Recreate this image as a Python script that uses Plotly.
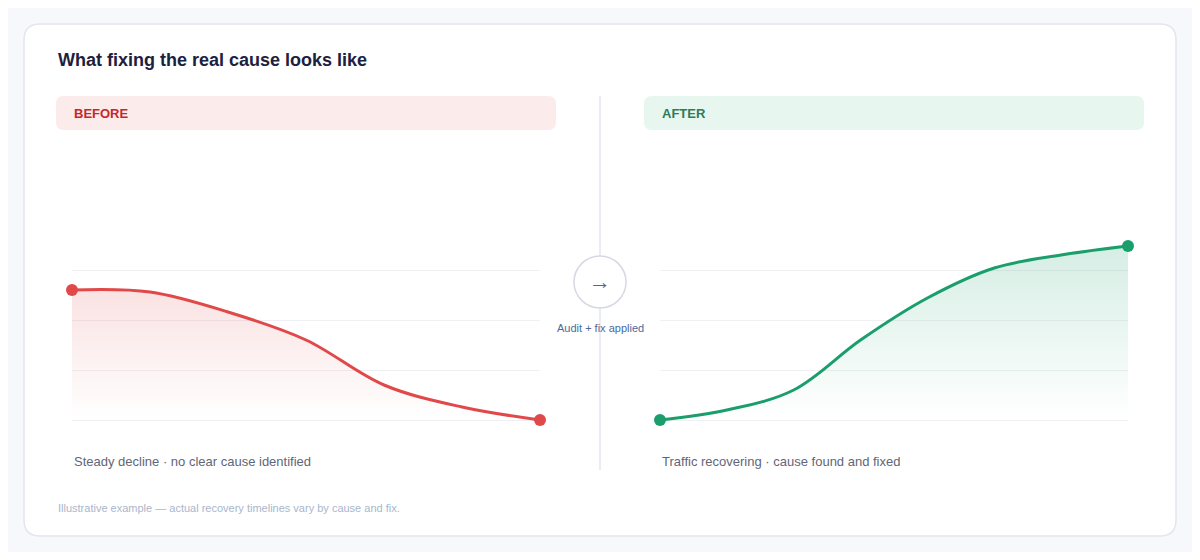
import plotly.graph_objects as go

# page puts the plot 8px in from top-left, so draw on a slightly smaller figure
OFF = 8
W, H = 1200 - 2 * OFF, 560 - 2 * OFF

# data (traffic index, illustrative)
before_t = [0, 1, 2, 3, 4, 5, 6]
before_v = [2.6, 2.56, 2.16, 1.6, 0.7, 0.26, 0.0]
after_t = [0, 1, 2, 3, 4, 5, 6, 7]
after_v = [0.0, 0.2, 0.6, 1.6, 2.44, 3.04, 3.3, 3.48]
grid_vals = [0, 1, 2, 3]

FONT = "Liberation Sans, Arial, sans-serif"


def px_x(x):
    return (x - OFF) / W


def px_y(y):
    return 1 - (y - OFF) / H


def rrect(x0, y0, x1, y1, r):
    # rounded rect path in paper coords (given pixels)
    X = lambda v: px_x(v)
    Y = lambda v: px_y(v)
    rx, ry = r / W, r / H
    return (f"M {X(x0)+rx},{Y(y0)} L {X(x1)-rx},{Y(y0)} Q {X(x1)},{Y(y0)} {X(x1)},{Y(y0)-ry} "
            f"L {X(x1)},{Y(y1)+ry} Q {X(x1)},{Y(y1)} {X(x1)-rx},{Y(y1)} "
            f"L {X(x0)+rx},{Y(y1)} Q {X(x0)},{Y(y1)} {X(x0)},{Y(y1)+ry} "
            f"L {X(x0)},{Y(y0)-ry} Q {X(x0)},{Y(y0)} {X(x0)+rx},{Y(y0)} Z")


fig = go.Figure()

red = "#e0484a"
green = "#1a9e6b"

fig.add_trace(go.Scatter(
    x=before_t, y=before_v, mode="lines", line=dict(color=red, width=3, shape="spline"),
    fill="tozeroy", fillgradient=dict(type="vertical",
                                      colorscale=[[0, "rgba(224,72,74,0.0)"], [1, "rgba(224,72,74,0.16)"]]),
    xaxis="x", yaxis="y", hoverinfo="skip", cliponaxis=False))
fig.add_trace(go.Scatter(
    x=[before_t[0], before_t[-1]], y=[before_v[0], before_v[-1]], mode="markers",
    marker=dict(color=red, size=12), xaxis="x", yaxis="y", cliponaxis=False, hoverinfo="skip"))

fig.add_trace(go.Scatter(
    x=after_t, y=after_v, mode="lines", line=dict(color=green, width=3, shape="spline"),
    fill="tozeroy", fillgradient=dict(type="vertical",
                                      colorscale=[[0, "rgba(26,158,107,0.0)"], [1, "rgba(26,158,107,0.18)"]]),
    xaxis="x2", yaxis="y2", hoverinfo="skip", cliponaxis=False))
fig.add_trace(go.Scatter(
    x=[after_t[0], after_t[-1]], y=[after_v[0], after_v[-1]], mode="markers",
    marker=dict(color=green, size=12), xaxis="x2", yaxis="y2", cliponaxis=False, hoverinfo="skip"))

ydom = [px_y(440), px_y(240)]
ax = dict(showgrid=False, zeroline=False, showticklabels=False, fixedrange=True)
ay = dict(range=[-0.4, 3.6], tickvals=grid_vals, showgrid=True, gridcolor="#eff0f4", gridwidth=1,
          zeroline=False, showticklabels=False, domain=ydom, fixedrange=True)

shapes = [
    dict(type="path", path=rrect(24, 24, 1176, 536, 16), xref="paper", yref="paper",
         fillcolor="white", line=dict(color="#e3e6ef", width=1.5), layer="below"),
    dict(type="path", path=rrect(56, 96, 556, 130, 8), xref="paper", yref="paper",
         fillcolor="#fcebeb", line=dict(width=0), layer="below"),
    dict(type="path", path=rrect(644, 96, 1144, 130, 8), xref="paper", yref="paper",
         fillcolor="#e7f6ef", line=dict(width=0), layer="below"),
    dict(type="line", x0=px_x(600), x1=px_x(600), y0=px_y(96), y1=px_y(470), xref="paper", yref="paper",
         line=dict(color="#e3e6ef", width=1.5)),
    dict(type="circle", x0=px_x(574), x1=px_x(626), y0=px_y(308), y1=px_y(256), xref="paper", yref="paper",
         fillcolor="white", line=dict(color="#d6d9e4", width=1.5)),
]


def txt(x, y, s, size, color, bold=False, anchor="left"):
    return dict(x=px_x(x), y=px_y(y), xref="paper", yref="paper", text=f"<b>{s}</b>" if bold else s,
                showarrow=False, xanchor=anchor, yanchor="middle",
                font=dict(family=FONT, size=size, color=color))


annotations = [
    txt(56, 60, "What fixing the real cause looks like", 18, "#1c2140", bold=True),
    txt(72, 114, "BEFORE", 13, "#c62828", bold=True),
    txt(660, 114, "AFTER", 13, "#2e7d55", bold=True),
    txt(600, 281, "→", 22, "#5f6578", anchor="center"),
    txt(600, 328, "Audit + fix applied", 11, "#4a6aa0", anchor="center"),
    txt(72, 461, "Steady decline · no clear cause identified", 13, "#5f6677"),
    txt(660, 461, "Traffic recovering · cause found and fixed", 13, "#5f6677"),
    txt(56, 508, "Illustrative example — actual recovery timelines vary by cause and fix.", 11, "#a9b6cc"),
]

fig.update_layout(
    width=W, height=H, margin=dict(l=0, r=0, t=0, b=0),
    paper_bgcolor="#f7f8fc", plot_bgcolor="rgba(0,0,0,0)", showlegend=False,
    xaxis=dict(ax, domain=[px_x(72), px_x(540)], range=[0, 6]),
    yaxis=ay,
    xaxis2=dict(ax, domain=[px_x(660), px_x(1128)], range=[0, 7], anchor="y2"),
    yaxis2=dict(ay, anchor="x2"),
    shapes=shapes, annotations=annotations,
)

fig.write_html("out.html", config={"displayModeBar": False})
